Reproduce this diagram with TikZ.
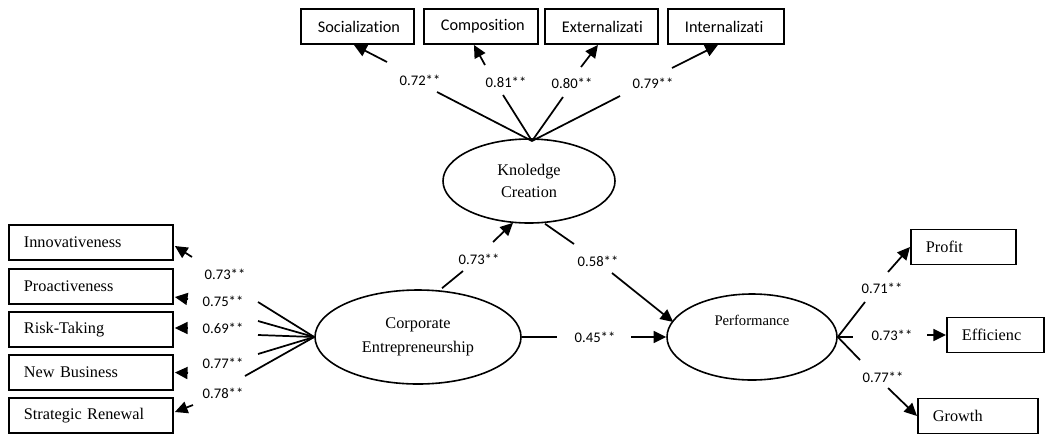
\documentclass[tikz,border=0pt]{standalone}
\usepackage{fontspec}
\setmainfont{Liberation Serif}
\newfontfamily\calfont[Ligatures=NoCommon]{Carlito}
\usetikzlibrary{arrows.meta,shapes.geometric,calc}

\begin{document}
\begin{tikzpicture}[x=0.75pt,y=-0.75pt,
  conn/.style={line width=1.3pt},
  arr/.style={line width=1.3pt,-{Triangle[length=9.5pt,width=9pt]}},
  lbl/.style={font=\calfont\fontsize{11}{13}\selectfont, inner sep=0pt},
  box/.style={draw, line width=1.4pt, anchor=west, minimum height=26.25pt,
              inner sep=0pt, align=left},
  sbox/.style={box, font=\fontsize{12.2}{14}\selectfont,
               execute at begin node={\hspace*{11.25pt}}},
  cbox/.style={box, font=\calfont\fontsize{12.2}{14}\selectfont,
               execute at begin node={\hspace*{12.75pt}}},
  lat/.style={draw, ellipse, line width=1.2pt, inner sep=0pt, align=center,
              font=\fontsize{12.2}{16.5}\selectfont}
]
\useasboundingbox (0,0) rectangle (1045,436);

% ---- latent constructs ----
\node[lat, minimum width=129pt, minimum height=63pt] (kc) at (529,181) {Knoledge\\Creation};
\node[lat, minimum width=154.5pt, minimum height=70.5pt,
      font=\fontsize{12.2}{17.5}\selectfont] (ce) at (418,337) {Corporate\\Entrepreneurship};
\node[lat, minimum width=127.5pt, minimum height=64.5pt] (pf) at (752,337) {};
\node[font=\fontsize{11}{13}\selectfont] (pftxt) at (752,320) {Performance};

% ---- indicators of knowledge creation ----
\node[cbox, text width=84.75pt] (soc) at (300,26.5) {Socialization};
\node[cbox, text width=85.5pt]  (comp) at (423,26.5) {Composition};
\node[cbox, text width=84.75pt] (ext) at (544,26.5) {Externalizati};
\node[cbox, text width=87pt]    (int) at (667,26.5) {Internalizati};

% ---- indicators of corporate entrepreneurship ----
\node[sbox, text width=123pt] (inn) at (8,242.5) {Innovativeness};
\node[sbox, text width=123pt] (pro) at (8,286.5) {Proactiveness};
\node[sbox, text width=123pt] (risk) at (8,329.5) {Risk-Taking};
\node[sbox, text width=123pt] (nb) at (8,372.5) {New Business};
\node[sbox, text width=123pt] (sr) at (8,415.5) {Strategic Renewal};

% ---- indicators of performance ----
\node[sbox, text width=78.75pt] (prof) at (910,247) {Profit};
\node[sbox, text width=72.75pt] (eff) at (946,335) {Efficienc};
\node[sbox, text width=90pt]    (gro) at (917,416) {Growth};

% ---- break points where the loadings interrupt the paths ----
\coordinate (ktop) at (532,141);
\coordinate (s1) at (437,92);  \coordinate (s2) at (387,62);
\coordinate (c1) at (503,95);  \coordinate (c2) at (485,65);
\coordinate (e1) at (563,97);  \coordinate (e2) at (581,67);
\coordinate (i1) at (620,96);  \coordinate (i2) at (672,68);

\coordinate (a1) at (258,302); \coordinate (a2) at (192,257);
\coordinate (b1) at (258,321); \coordinate (b2) at (188,299);
\coordinate (r1) at (258,335); \coordinate (r2) at (188,328);
\coordinate (n1) at (258,354); \coordinate (n2) at (188,373);
\coordinate (g1) at (245,376); \coordinate (g2) at (193,405);

\coordinate (m1) at (463,271); \coordinate (m2) at (493,242);
\coordinate (k1) at (574,244); \coordinate (k2) at (612,273);
\coordinate (h1) at (557,337); \coordinate (h2) at (631,337);

\coordinate (p1) at (865,302); \coordinate (p2) at (888,272);
\coordinate (f1) at (853,337); \coordinate (f2) at (927,335);
\coordinate (w1) at (860,360); \coordinate (w2) at (888,388);

% ---- knowledge creation -> indicators ----
\draw[conn] (ktop) -- (s1); \draw[arr] (s2) -- ($(soc.south)+(-3.5,0)$);
\draw[conn] (ktop) -- (c1); \draw[arr] (c2) -- ($(comp.south)+(-7,0)$);
\draw[conn] (ktop) -- (e1); \draw[arr] (e2) -- ($(ext.south)+(-3.5,0)$);
\draw[conn] (ktop) -- (i1); \draw[arr] (i2) -- ($(int.south)+(-8,0)$);

% ---- corporate entrepreneurship -> indicators ----
\draw[conn] (ce.west) -- (a1); \draw[arr] (a2) -- ($(inn.east)+(1,3.5)$);
\draw[conn] (ce.west) -- (b1); \draw[arr] (b2) -- ($(pro.east)+(1,10.5)$);
\draw[conn] (ce.west) -- (r1); \draw[arr] (r2) -- ($(risk.east)+(1,-1.5)$);
\draw[conn] (ce.west) -- (n1); \draw[arr] (n2) -- ($(nb.east)+(1,0)$);
\draw[conn] (ce.west) -- (g1); \draw[arr] (g2) -- ($(sr.east)+(1,-3.5)$);

% ---- structural paths ----
\draw[conn] ($(ce.north)+(24,-1)$) -- (m1); \draw[arr] (m2) -- ($(kc.south)+(-16,-1)$);
\draw[conn] ($(kc.south)+(16,0)$) -- (k1); \draw[arr] (k2) -- ($(pf.west)+(7,-15)$);
\draw[conn] (ce.east) -- (h1);              \draw[arr] (h2) -- (pf.west);

% ---- performance -> indicators ----
\draw[conn] (pf.east) -- (p1); \draw[arr] (p2) -- (prof.west);
\draw[conn] (pf.east) -- (f1); \draw[arr] (f2) -- (eff.west);
\draw[conn] (pf.east) -- (w1); \draw[arr] (w2) -- (gro.west);

% ---- loadings ----
\node[lbl] (lsoc) at (420,80) {0.72**};
\node[lbl] (lcomp) at (506,82) {0.81**};
\node[lbl] (lext) at (572,83) {0.80**};
\node[lbl] (lint) at (653,83) {0.79**};

\node[lbl] (linn) at (225,274) {0.73**};
\node[lbl] (lpro) at (223,301) {0.75**};
\node[lbl] (lrisk) at (223,328) {0.69**};
\node[lbl] (lnb) at (223,363) {0.77**};
\node[lbl] (lsr) at (223,393) {0.78**};

\node[lbl] (lcekc) at (479,259) {0.73**};
\node[lbl] (lkcpf) at (598,261) {0.58**};
\node[lbl] (lcepf) at (595,337) {0.45**};

\node[lbl] (lprof) at (882,288) {0.71**};
\node[lbl] (leff) at (892,335) {0.73**};
\node[lbl] (lgro) at (883,377) {0.77**};
\end{tikzpicture}
\end{document}
